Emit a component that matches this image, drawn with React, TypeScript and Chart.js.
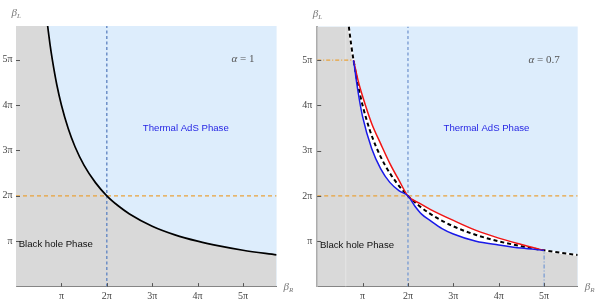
import React, { useEffect, useRef } from "react";
import { Chart, registerables } from "chart.js";

Chart.register(...registerables);

// ---------- data (all values in units of π) ----------
const AXIS_MAX = 5.74;
const tickValues = [1, 2, 3, 4, 5];
const tickLabels = ["π", "2π", "3π", "4π", "5π"];

// critical curve  βL·βR = 4π²
const curveX = [0.697, 0.75, 0.8, 0.9, 1, 1.15, 1.3, 1.5, 1.75, 2, 2.25, 2.5, 3, 3.5, 4, 4.5, 5, 5.74];
const curveY = [5.74, 5.33, 5, 4.44, 4, 3.48, 3.08, 2.67, 2.29, 2, 1.78, 1.6, 1.33, 1.14, 1, 0.89, 0.8, 0.697];

// α = 0.7 boundaries
const redX = [0.8, 0.9, 1.0, 1.2, 1.4, 1.6, 1.8, 2, 2.25, 2.5, 3, 3.5, 4, 4.5, 5];
const redY = [5, 4.55, 4.2, 3.6, 3.15, 2.72, 2.35, 2, 1.84, 1.7, 1.46, 1.24, 1.07, 0.93, 0.8];
const blueX = [0.8, 0.9, 1.0, 1.2, 1.4, 1.6, 1.8, 2, 2.15, 2.3, 2.5, 2.75, 3, 3.5, 4, 4.5, 5];
const blueY = [5, 4.3, 3.75, 3.05, 2.6, 2.3, 2.12, 2, 1.78, 1.6, 1.45, 1.28, 1.16, 1.0, 0.92, 0.85, 0.8];

const criticalBeta = 2; // 2π guide lines
const cutoffBeta = 5; // 5π guide lines
const cutoffEnd = 0.8; // 4π/5
const seamX = 0.63;

// ---------- styles ----------
const GRAY = "#d9d9d9";
const SKY = "#ddedfc";
const GUIDE_BLUE = "#6488c4";
const ORANGE = "#e9a23b";
const CLEAR = "rgba(0,0,0,0)";
const H = 307;

const pts = (xs: number[], ys: number[]) => xs.map((x, i) => ({ x, y: ys[i] }));

type Note = { text: string; x: number; y: number; color: string; font: string; align: CanvasTextAlign };

function drawBeta(ctx: CanvasRenderingContext2D, sub: string, x: number, y: number) {
  ctx.fillStyle = "#777";
  ctx.textAlign = "left";
  ctx.textBaseline = "alphabetic";
  ctx.font = 'italic 11px "Liberation Serif"';
  ctx.fillText("β", x, y);
  const w = ctx.measureText("β").width;
  ctx.font = 'italic 7px "Liberation Serif"';
  ctx.fillText(sub, x + w, y + 2);
}

function drawAlpha(ctx: CanvasRenderingContext2D, value: string, cx: number, cy: number) {
  ctx.fillStyle = "#555";
  ctx.textBaseline = "middle";
  ctx.textAlign = "left";
  ctx.font = 'italic 11px "Liberation Serif"';
  const a = ctx.measureText("α").width;
  ctx.font = '11px "Liberation Serif"';
  const rest = " = " + value;
  const r = ctx.measureText(rest).width;
  const x0 = cx - (a + r) / 2;
  ctx.font = 'italic 11px "Liberation Serif"';
  ctx.fillText("α", x0, cy);
  ctx.font = '11px "Liberation Serif"';
  ctx.fillText(rest, x0 + a, cy);
}

function decor(alpha: string, notes: Note[]) {
  return {
    id: "decor",
    beforeDraw(chart: any) {
      const { ctx, chartArea: a } = chart;
      ctx.save();
      ctx.fillStyle = SKY;
      ctx.fillRect(a.left, a.top, a.right - a.left, a.bottom - a.top);
      ctx.restore();
    },
    afterDraw(chart: any) {
      const { ctx, chartArea: a, scales } = chart;
      const xs = scales.x;
      const ys = scales.y;
      ctx.save();
      ctx.strokeStyle = "#555";
      ctx.lineWidth = 1;
      tickValues.forEach((v) => {
        const px = Math.round(xs.getPixelForValue(v)) + 0.5;
        ctx.beginPath();
        ctx.moveTo(px, a.bottom);
        ctx.lineTo(px, a.bottom - 3.5);
        ctx.stroke();
        const py = Math.round(ys.getPixelForValue(v)) + 0.5;
        ctx.beginPath();
        ctx.moveTo(a.left, py);
        ctx.lineTo(a.left + 4, py);
        ctx.stroke();
      });
      notes.forEach((n) => {
        ctx.font = n.font;
        ctx.fillStyle = n.color;
        ctx.textAlign = n.align;
        ctx.textBaseline = "middle";
        ctx.fillText(n.text, xs.getPixelForValue(n.x), ys.getPixelForValue(n.y));
      });
      drawAlpha(ctx, alpha, xs.getPixelForValue(5), ys.getPixelForValue(5));
      drawBeta(ctx, "L", a.left - 4.5, a.top - 10);
      drawBeta(ctx, "R", a.right + 7, a.bottom + 3);
      ctx.restore();
    },
  };
}

function scales(yWidth: number, yBorder: { width: number; color: string }, yPad: number) {
  const label = (v: any) => {
    const i = tickValues.indexOf(Number(v));
    return i >= 0 ? tickLabels[i] : "";
  };
  const tickFont = { family: "Liberation Serif", size: 10 };
  return {
    x: {
      type: "linear",
      min: 0,
      max: AXIS_MAX,
      afterBuildTicks: (s: any) => {
        s.ticks = tickValues.map((v) => ({ value: v }));
      },
      afterFit: (s: any) => {
        s.height = H - 286.6;
      },
      grid: { drawOnChartArea: false, drawTicks: false },
      border: { display: true, color: "#7a7a7a", width: 1 },
      ticks: { callback: label, font: tickFont, color: "#444", padding: 4, autoSkip: false, maxRotation: 0 },
    },
    y: {
      type: "linear",
      min: 0,
      max: AXIS_MAX,
      afterBuildTicks: (s: any) => {
        s.ticks = tickValues.map((v) => ({ value: v }));
      },
      afterFit: (s: any) => {
        s.width = yWidth;
      },
      grid: { drawOnChartArea: false, drawTicks: false },
      border: { display: true, color: yBorder.color, width: yBorder.width },
      ticks: { callback: label, font: tickFont, color: "#444", padding: yPad, autoSkip: false },
    },
  };
}

const baseOptions = (top: number, right: number, sc: any) => ({
  responsive: false,
  animation: false,
  devicePixelRatio: 1,
  events: [],
  layout: { padding: { top, right, left: 0, bottom: 0 } },
  elements: { point: { radius: 0 } },
  plugins: {
    legend: { display: false },
    tooltip: { enabled: false },
    filler: { drawTime: "beforeDatasetsDraw" },
  },
  scales: sc,
});

const line = (data: any[], extra: any) => ({
  type: "line",
  data,
  pointRadius: 0,
  fill: false,
  borderColor: "#000",
  borderWidth: 1.5,
  ...extra,
});

function leftConfig(): any {
  const curve = pts(curveX, curveY);
  const grayBoundary = [{ x: 0, y: AXIS_MAX }, ...curve];
  return {
    type: "line",
    data: {
      datasets: [
        line(grayBoundary, { borderColor: CLEAR, borderWidth: 0, backgroundColor: GRAY, fill: "start", cubicInterpolationMode: "monotone", order: 20 }),
        line([{ x: criticalBeta, y: 0 }, { x: criticalBeta, y: AXIS_MAX }], { borderColor: GUIDE_BLUE, borderDash: [3, 2.5], borderWidth: 1.4, order: 10 }),
        line([{ x: 0, y: criticalBeta }, { x: AXIS_MAX, y: criticalBeta }], { borderColor: ORANGE, borderDash: [4, 3], borderWidth: 1.3, order: 10 }),
        line(curve, { borderColor: "#000", borderWidth: 1.7, cubicInterpolationMode: "monotone", order: 1 }),
      ],
    },
    options: baseOptions(26, 300 - 276.6, scales(16, { width: 1, color: "#8a8a8a" }, 3.5)),
    plugins: [
      decor("1", [
        { text: "Thermal AdS Phase", x: 3.74, y: 3.49, color: "#2626e4", font: '9.6px "Liberation Sans"', align: "center" },
        { text: "Black hole Phase", x: 0.06, y: 0.92, color: "#111", font: '9.6px "Liberation Sans"', align: "left" },
      ]),
    ],
  };
}

function rightConfig(): any {
  const curve = pts(curveX, curveY);
  const blue = pts(blueX, blueY);
  const red = pts(redX, redY);
  const grayBoundary = [
    { x: 0, y: AXIS_MAX },
    ...curve.filter((p) => p.x < cutoffEnd),
    ...blue,
    ...curve.filter((p) => p.x > cutoffBeta),
  ];
  return {
    type: "line",
    data: {
      datasets: [
        // 0
        line(grayBoundary, { borderColor: CLEAR, borderWidth: 0, backgroundColor: GRAY, fill: "start", cubicInterpolationMode: "monotone", order: 20 }),
        // 1 blue boundary
        line(blue, { borderColor: "#1a1ae8", borderWidth: 1.5, cubicInterpolationMode: "monotone", order: 2 }),
        // 2 red boundary, white band down to blue
        line(red, { borderColor: "#f01414", borderWidth: 1.5, cubicInterpolationMode: "monotone", backgroundColor: "#ffffff", fill: 1, order: 3 }),
        line([{ x: seamX, y: 0 }, { x: seamX, y: AXIS_MAX }], { borderColor: "#e6e6e6", borderWidth: 1, order: 15 }),
        line([{ x: criticalBeta, y: 0 }, { x: criticalBeta, y: AXIS_MAX }], { borderColor: "#7c9ed4", borderDash: [3, 2.5], borderWidth: 1.4, order: 10 }),
        line([{ x: 0, y: criticalBeta }, { x: AXIS_MAX, y: criticalBeta }], { borderColor: ORANGE, borderDash: [4, 3], borderWidth: 1.3, order: 10 }),
        line([{ x: 0, y: cutoffBeta }, { x: cutoffEnd, y: cutoffBeta }], { borderColor: ORANGE, borderDash: [4, 2, 1, 2], borderWidth: 1.3, order: 10 }),
        line([{ x: cutoffBeta, y: 0 }, { x: cutoffBeta, y: cutoffEnd }], { borderColor: "#7c9ed4", borderDash: [4, 2, 1, 2], borderWidth: 1.3, order: 10 }),
        line(curve, { borderColor: "#ffffff", borderWidth: 2.2, cubicInterpolationMode: "monotone", order: 6 }),
        line(curve, { borderColor: "#000", borderWidth: 2, borderDash: [4, 3], cubicInterpolationMode: "monotone", order: 5 }),
      ],
    },
    options: baseOptions(26.5, 320 - 287.7, scales(27.2, { width: 2, color: "#acacac" }, 5)),
    plugins: [
      decor("0.7", [
        { text: "Thermal AdS Phase", x: 3.73, y: 3.49, color: "#2626e4", font: '9.6px "Liberation Sans"', align: "center" },
        { text: "Black hole Phase", x: 0.06, y: 0.92, color: "#111", font: '9.6px "Liberation Sans"', align: "left" },
      ]),
    ],
  };
}

function ChartCanvas({ make, left, width }: { make: () => any; left: number; width: number }) {
  const ref = useRef<HTMLCanvasElement>(null);
  useEffect(() => {
    const chart = new Chart(ref.current as HTMLCanvasElement, make());
    return () => chart.destroy();
  }, []);
  return (
    <canvas
      ref={ref}
      width={width}
      height={H}
      style={{ position: "absolute", left, top: 0, width, height: H }}
    />
  );
}

export default function App() {
  return (
    <div style={{ position: "absolute", left: 0, top: 0, width: 610, height: H, background: "#fff" }}>
      <ChartCanvas make={leftConfig} left={0} width={300} />
      <ChartCanvas make={rightConfig} left={290} width={320} />
    </div>
  );
}
